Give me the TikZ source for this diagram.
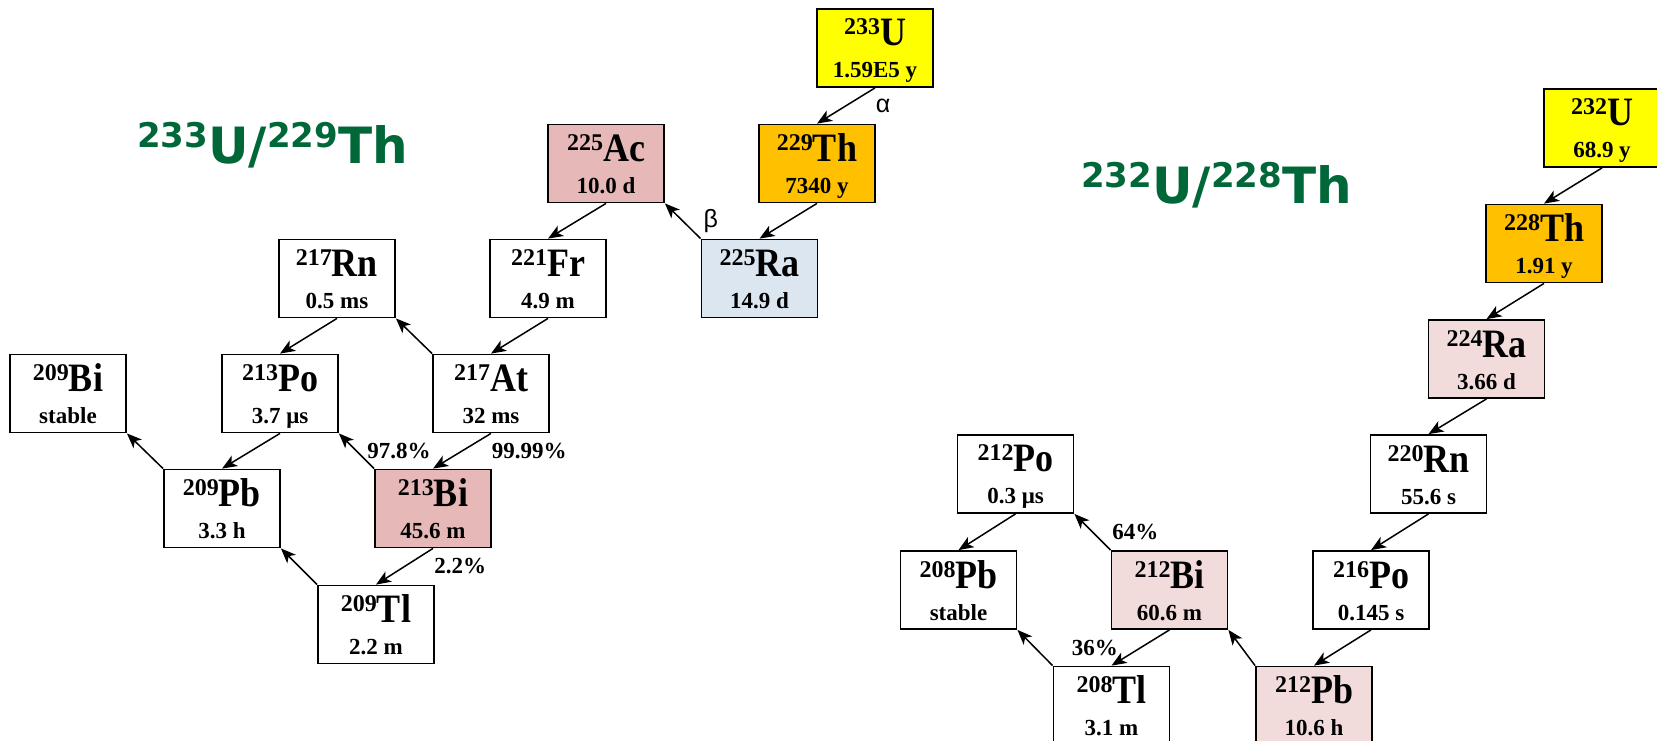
\documentclass[tikz,border=0pt]{standalone}
\usepackage{fontspec}
\setmainfont{Liberation Serif}
\newfontfamily\titlefont{DejaVu Sans}
\newfontfamily\greekfont{Liberation Sans}
\usetikzlibrary{arrows.meta, positioning}

\definecolor{uyellow}{RGB}{255,255,0}
\definecolor{thorange}{RGB}{255,192,0}
\definecolor{acpink}{RGB}{230,184,183}
\definecolor{rapink}{RGB}{242,220,219}
\definecolor{rablue}{RGB}{220,230,241}
\definecolor{titlegreen}{RGB}{0,104,56}

% box text: mass number, symbol, half-life
\newcommand{\nuc}[3]{\rule{0pt}{32pt}\raisebox{11pt}{\fontsize{24}{32}\selectfont #1}\scalebox{1}[1.12]{\fontsize{36}{32}\selectfont #2}\\#3\rule[-4pt]{0pt}{4pt}}
% title: two mass numbers
\newcommand{\chaintitle}[2]{\raisebox{16pt}{\fontsize{34}{40}\selectfont #1}U/\raisebox{16pt}{\fontsize{34}{40}\selectfont #2}Th}

\begin{document}
\begin{tikzpicture}[x=1pt, y=-1pt,
    iso/.style={draw, line width=1.8pt, minimum width=116pt, minimum height=78pt,
      inner sep=0pt, align=center, font=\bfseries\fontsize{23}{32}\selectfont},
    decay/.style={-{Stealth[length=15pt, width=12pt, inset=4pt]}, line width=1.5pt},
    pct/.style={inner sep=0pt, font=\bfseries\fontsize{23}{26}\selectfont},
    greek/.style={inner sep=0pt, font=\greekfont\fontsize{25}{28}\selectfont},
    chain/.style={inner sep=0pt, anchor=base west, text=titlegreen,
      font=\titlefont\bfseries\fontsize{50}{56}\selectfont}]
    \useasboundingbox (0,0) rectangle (1657,741);

    % titles
    \node[chain] (ttlone) at (137,164) {\chaintitle{233}{229}};
    \node[chain] (ttltwo) at (1081,203) {\chaintitle{232}{228}};

    % 233U chain
    \node[iso, fill=uyellow] (u233) at (875,48) {\nuc{233}{U}{1.59E5 y}};
    \node[iso, fill=thorange] (th229) at (817,163.5) {\nuc{229}{Th}{7340 y}};
    \node[iso, fill=acpink] (ac225) at (606,163.5) {\nuc{225}{Ac}{10.0 d}};
    \node[iso, fill=rablue] (ra225) at (759.5,278.5) {\nuc{225}{Ra}{14.9 d}};
    \node[iso] (fr221) at (548,278.5) {\nuc{221}{Fr}{4.9 m}};
    \node[iso] (rn217) at (337,278.5) {\nuc{217}{Rn}{0.5 ms}};
    \node[iso] (at217) at (491,393.5) {\nuc{217}{At}{32 ms}};
    \node[iso] (po213) at (280,393.5) {\nuc{213}{Po}{3.7 μs}};
    \node[iso] (bi209) at (68,393.5) {\nuc{209}{Bi}{stable}};
    \node[iso, fill=acpink] (bi213) at (433,508.5) {\nuc{213}{Bi}{45.6 m}};
    \node[iso] (pb209) at (222,508.5) {\nuc{209}{Pb}{3.3 h}};
    \node[iso] (tl209) at (376,624.5) {\nuc{209}{Tl}{2.2 m}};

    \draw[decay] (u233.south) -- (th229.north) node[greek, midway, right=29pt] {α};
    \draw[decay] (th229.south) -- (ra225.north);
    \draw[decay] (ra225.north west) -- (ac225.south east) node[greek, midway, right=20pt] {β};
    \draw[decay] (ac225.south) -- (fr221.north);
    \draw[decay] (fr221.south) -- (at217.north);
    \draw[decay] (at217.north west) -- (rn217.south east);
    \draw[decay] (rn217.south) -- (po213.north);
    \draw[decay] (at217.south) -- (bi213.north) node[pct, midway, right=29pt] {99.99\%};
    \draw[decay] (bi213.north west) -- (po213.south east) node[pct, midway, right=10pt] {97.8\%};
    \draw[decay] (bi213.south) -- (tl209.north) node[pct, midway, right=29pt] {2.2\%};
    \draw[decay] (po213.south) -- (pb209.north);
    \draw[decay] (tl209.north west) -- (pb209.south east);
    \draw[decay] (pb209.north west) -- (bi209.south east);

    % 232U chain
    \node[iso, fill=uyellow] (u232) at (1602,128) {\nuc{232}{U}{68.9 y}};
    \node[iso, fill=thorange] (th228) at (1544,243.5) {\nuc{228}{Th}{1.91 y}};
    \node[iso, fill=rapink] (ra224) at (1486.5,359) {\nuc{224}{Ra}{3.66 d}};
    \node[iso] (rn220) at (1428.5,474) {\nuc{220}{Rn}{55.6 s}};
    \node[iso] (po216) at (1371,590) {\nuc{216}{Po}{0.145 s}};
    \node[iso, fill=rapink] (pb212) at (1314,705.5) {\nuc{212}{Pb}{10.6 h}};
    \node[iso, fill=rapink] (bi212) at (1169.5,590) {\nuc{212}{Bi}{60.6 m}};
    \node[iso] (tl208) at (1111.5,705.5) {\nuc{208}{Tl}{3.1 m}};
    \node[iso] (po212) at (1015.5,474) {\nuc{212}{Po}{0.3 μs}};
    \node[iso] (pb208) at (958.5,590) {\nuc{208}{Pb}{stable}};

    \draw[decay] (u232.south) -- (th228.north);
    \draw[decay] (th228.south) -- (ra224.north);
    \draw[decay] (ra224.south) -- (rn220.north);
    \draw[decay] (rn220.south) -- (po216.north);
    \draw[decay] (po216.south) -- (pb212.north);
    \draw[decay] (pb212.north west) -- (bi212.south east);
    \draw[decay] (bi212.north west) -- (po212.south east) node[pct, midway, right=19pt] {64\%};
    \draw[decay] (bi212.south) -- (tl208.north) node[pct, midway, left=22pt] {36\%};
    \draw[decay] (po212.south) -- (pb208.north);
    \draw[decay] (tl208.north west) -- (pb208.south east);
\end{tikzpicture}
\end{document}
